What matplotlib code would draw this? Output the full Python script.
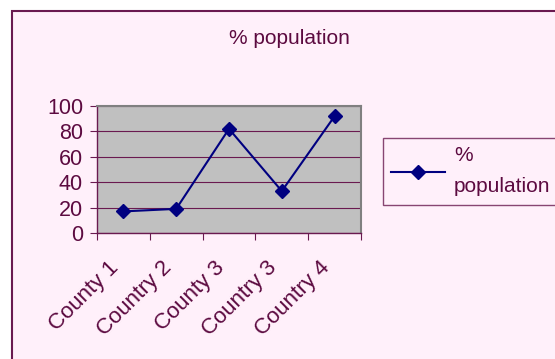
import numpy as np
import matplotlib.pyplot as plt
from matplotlib.patches import Rectangle
from matplotlib.transforms import ScaledTranslation

plt.rcParams['font.family'] = ['Liberation Sans', 'DejaVu Sans']

countries = ['County 1', 'Country 2', 'County 3', 'Country 3', 'Country 4']
pct_population = [17, 19, 82, 33, 92]

txt = '#5c0a40'
bg = '#fff0fa'

fig = plt.figure(figsize=(5.55, 3.59), dpi=100)
fig.patch.set_facecolor('white')
W, H = 555, 359

# chart area frame (runs off right/bottom edge)
fig.patches.append(Rectangle((12 / W, -0.1), 1.0, (1 - 11 / H) + 0.1,
                             transform=fig.transFigure, facecolor=bg,
                             edgecolor='#6a1a50', linewidth=1.5, zorder=-5))

ax = fig.add_axes([97 / W, 1 - 233 / H, (361 - 97) / W, (233 - 106) / H])
ax.set_facecolor('#c0c0c0')
x = np.arange(len(countries))
ax.plot(x, pct_population, color='#000080', marker='D', markersize=7,
        linewidth=1.5, label='%\npopulation')

ax.set_xlim(-0.5, len(countries) - 0.5)
ax.set_ylim(0, 100)
ax.set_yticks(range(0, 101, 20))
ax.set_xticks(np.arange(-0.5, len(countries), 1.0))
ax.set_xticklabels([])
ax.set_xticks(x, minor=True)
ax.set_xticklabels(countries, minor=True, rotation=45, ha='right', va='center',
                   rotation_mode='anchor', fontsize=16, color=txt)
ax.tick_params(axis='x', which='minor', length=0, pad=23)
shift = ScaledTranslation(-8 / 100, 0, fig.dpi_scale_trans)
for lbl in ax.get_xticklabels(minor=True):
    lbl.set_transform(lbl.get_transform() + shift)
ax.tick_params(axis='x', which='major', direction='out', length=5, color='#6a1a50')
ax.tick_params(axis='y', direction='out', length=5, color='#6a1a50',
               labelsize=15.5, labelcolor=txt, pad=5)
ax.grid(axis='y', color='#6a1a50', linewidth=0.8)
ax.set_axisbelow(True)
for side in ['top', 'right']:
    ax.spines[side].set_color('#808080')
    ax.spines[side].set_linewidth(1.5)
for side in ['left', 'bottom']:
    ax.spines[side].set_color('#6a1a50')
    ax.spines[side].set_linewidth(1.0)

fig.text(289 / W, 1 - 38 / H, '% population', ha='center', va='center',
         fontsize=15, color=txt)

leg = fig.legend(loc='upper left', bbox_to_anchor=(383 / W, 1 - 138 / H),
                 borderaxespad=0, frameon=True, fancybox=False, fontsize=15,
                 handlelength=2.6, handletextpad=0.4, borderpad=0.4,
                 labelcolor=txt, facecolor=bg)
leg.get_frame().set_edgecolor('#6a1a50')
leg.get_frame().set_linewidth(1.0)
for t in leg.get_texts():
    t.set_linespacing(1.8)

fig.savefig('out.png', dpi=100, facecolor=fig.get_facecolor())
